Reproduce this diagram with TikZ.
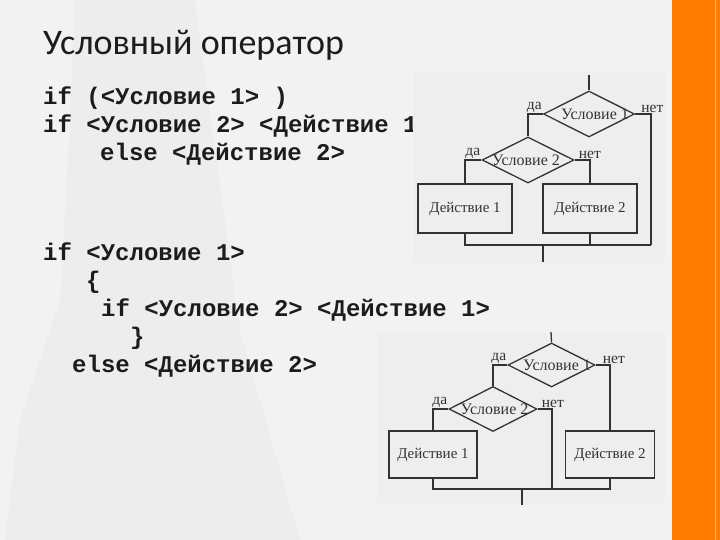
\documentclass[tikz,border=0pt]{standalone}
\usepackage{fontspec}
\setmainfont{Liberation Serif}
\newfontfamily\codefont{Liberation Mono}
\newfontfamily\titlefont{Carlito}
\usetikzlibrary{positioning, calc, shapes.geometric}
\definecolor{SlideBg}{HTML}{F2F2F2}
\definecolor{Streak}{HTML}{EDEDED}
\definecolor{PicBg}{HTML}{EEEEEE}
\definecolor{SlideOrange}{HTML}{FF7A00}
\definecolor{OrangeLine}{HTML}{FFB060}
\definecolor{Ink}{HTML}{1C1C1C}
\definecolor{FlowInk}{HTML}{333333}

\begin{document}
\begin{tikzpicture}[x=1pt, y=-1pt,
    code/.style={anchor=base west, inner sep=0, text=Ink, font=\codefont\bfseries\fontsize{24}{24}\selectfont},
    cond/.style={diamond, draw=FlowInk, line width=1.3pt, inner sep=0, text=FlowInk, font=\fontsize{16}{16}\selectfont},
    act/.style={rectangle, draw=FlowInk, line width=1.3pt, inner sep=0, text=FlowInk, font=\fontsize{15}{15}\selectfont},
    yes/.style={inner sep=1pt, text=FlowInk, font=\fontsize{15.5}{15.5}\selectfont},
    wire/.style={draw=FlowInk, line width=1.3pt}]
    \useasboundingbox (0,0) rectangle (720,540);
    \fill[SlideBg] (0,0) rectangle (720,540);
    % faint texture on the left
    \fill[Streak] (75,0) -- (195,0) -- (215,150) -- (240,330) -- (300,540) -- (5,540) -- (20,420) -- (60,300) -- (70,120) -- cycle;
    \fill[SlideOrange] (672,0) rectangle (720,540);
    \draw[OrangeLine, line width=0.8pt] (715,0) -- (715,540);

    % title and code
    \node[anchor=base west, inner sep=0, text=Ink, font=\titlefont\fontsize{36}{36}\selectfont] (title) at (43,55) {Условный оператор};
    \node[code] (c1) at (43,105) {if (<Условие 1> )};
    \node[code] (c2) at (43,133) {if <Условие 2> <Действие 1>};
    \node[code] (c3) at (100,161) {else <Действие 2>};
    \node[code] (k1) at (43,260) {if <Условие 1>};
    \node[code] (k2) at (86,288) {\{};
    \node[code] (k3) at (101,316) {if <Условие 2> <Действие 1>};
    \node[code] (k4) at (130,344) {\}};
    \node[code] (k5) at (72,372) {else <Действие 2>};

    % first scheme
    \fill[PicBg] (413,72) rectangle (665,263);
    \coordinate (top1) at (589,75);
    \node[cond, minimum width=91pt, minimum height=46pt] (d1a) at (589,114) {\makebox[0pt]{\hspace{12pt}Условие 1}};
    \node[cond, minimum width=92pt, minimum height=46pt] (d2a) at (528,160) {\makebox[0pt]{\hspace{-4pt}Условие 2}};
    \node[act, minimum width=94pt, minimum height=49pt] (a1a) at (465,208.5) {Действие 1};
    \node[act, minimum width=94pt, minimum height=49pt] (a2a) at (590,208.5) {Действие 2};
    \node[yes, anchor=south east] (y1a) at (d1a.west) {да};
    \node[yes, anchor=south west] (n1a) at ($(d1a.east)+(5,0)$) {нет};
    \node[yes, anchor=south east] (y2a) at (d2a.west) {да};
    \node[yes, anchor=south west] (n2a) at ($(d2a.east)+(3,0)$) {нет};
    \coordinate (r1) at (651,245);
    \coordinate (j1) at (543,245);
    \coordinate (out1) at (543,262);
    \draw[wire] (top1) -- (d1a.north);
    \draw[wire] (d1a.west) -| (d2a.north);
    \draw[wire] (d2a.west) -| (a1a.north);
    \draw[wire] (d2a.east) -| (a2a.north);
    \draw[wire] (d1a.east) -| (r1);
    \draw[wire] (a1a.south) |- (r1);
    \draw[wire] (a2a.south) -- (a2a.south |- r1);
    \draw[wire] (j1) -- (out1);

    % second scheme
    \fill[PicBg] (377,333) rectangle (665,503);
    \coordinate (top2) at (551,332);
    \node[cond, minimum width=87pt, minimum height=44pt] (d1b) at (551.5,365) {\makebox[0pt]{\hspace{11pt}Условие 1}};
    \node[cond, minimum width=88pt, minimum height=45pt] (d2b) at (493,409) {\makebox[0pt]{\hspace{3pt}Условие 2}};
    \node[act, minimum width=88pt, minimum height=47pt] (a1b) at (433,454.5) {Действие 1};
    \node[act, minimum width=89pt, minimum height=47pt] (a2b) at (610,454.5) {Действие 2};
    \node[yes, anchor=south east] (y1b) at (d1b.west) {да};
    \node[yes, anchor=south west] (n1b) at ($(d1b.east)+(6,0)$) {нет};
    \node[yes, anchor=south east] (y2b) at (d2b.west) {да};
    \node[yes, anchor=south west] (n2b) at ($(d2b.east)+(3,0)$) {нет};
    \coordinate (r2) at (610,489);
    \coordinate (m2) at (552,489);
    \coordinate (j2) at (522,489);
    \coordinate (out2) at (522,505);
    \draw[wire] (top2) -- (d1b.north);
    \draw[wire] (d1b.west) -| (d2b.north);
    \draw[wire] (d2b.west) -| (a1b.north);
    \draw[wire] (d2b.east) -| (m2);
    \draw[wire] (d1b.east) -| (a2b.north);
    \draw[wire] (a1b.south) |- (r2) -- (a2b.south);
    \draw[wire] (j2) -- (out2);
\end{tikzpicture}
\end{document}
